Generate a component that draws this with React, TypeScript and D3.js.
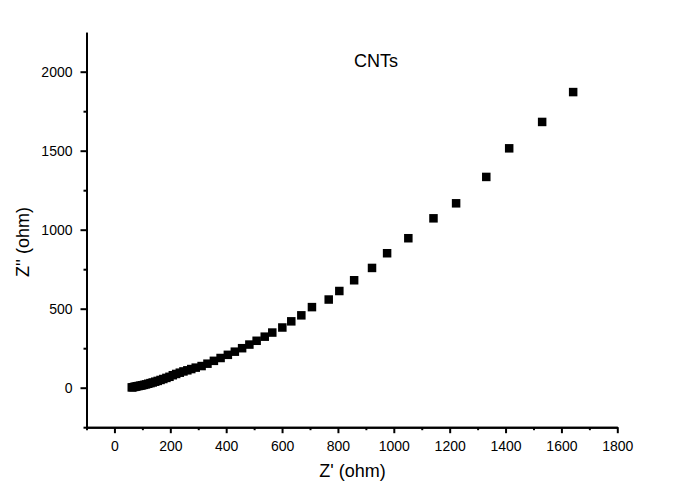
import { useRef, useEffect } from 'react';
import * as d3 from 'd3';

// Z' (real part) and Z'' (imaginary part), ohm
const zReal = [
  62, 66, 71, 76, 81, 87, 93, 99, 106, 113, 121, 129, 137, 146, 155, 165, 175, 186, 197, 209,
  221, 234, 247, 261, 275, 291, 312, 333, 356, 380, 406, 431, 457, 483, 509, 538, 565, 601,
  633, 669, 707, 767, 805, 858, 922, 976, 1052, 1142, 1223, 1331, 1413, 1531, 1642,
];
const zImag = [
  2, 3, 5, 7, 9, 11, 13, 15, 18, 21, 25, 29, 33, 38, 43, 49, 55, 62, 69, 79,
  87, 95, 103, 110, 118, 127, 137, 152, 170, 188, 208, 228, 250, 273, 297, 323, 349, 381,
  420, 458, 510, 558, 612, 680, 758, 851, 946, 1072, 1167, 1334, 1515, 1682, 1871,
];

const xMajor = [0, 200, 400, 600, 800, 1000, 1200, 1400, 1600, 1800];
const xMinor = [-100, 100, 300, 500, 700, 900, 1100, 1300, 1500, 1700];
const yMajor = [0, 500, 1000, 1500, 2000];
const yMinor = [-250, 250, 750, 1250, 1750];

const WIDTH = 673;
const HEIGHT = 497;
const FONT = '"Liberation Sans", Arial, sans-serif';

export default function App() {
  const svgRef = useRef<SVGSVGElement>(null);

  useEffect(() => {
    if (!svgRef.current) return;
    const svg = d3.select(svgRef.current);
    svg.selectAll('*').remove();

    const x = d3.scaleLinear().domain([-100, 1800]).range([86.5, 617.3]);
    const y = d3.scaleLinear().domain([-250, 2250]).range([427.2, 32.2]);
    const x0 = x.range()[0];
    const y0 = y.range()[0];
    const fmt = d3.format('d');

    const styleAxis = (g: d3.Selection<SVGGElement, unknown, null, undefined>) => {
      g.selectAll('path, line').attr('stroke', '#000').attr('stroke-width', 2);
      g.selectAll('text').style('font-family', FONT).style('font-size', '14px').attr('fill', '#000');
    };

    // X axis
    svg
      .append('g')
      .attr('transform', `translate(0,${y0})`)
      .call(d3.axisBottom(x).tickValues(xMinor).tickSize(3).tickSizeOuter(0).tickFormat(() => ''))
      .call(styleAxis);
    svg
      .append('g')
      .attr('transform', `translate(0,${y0})`)
      .call(d3.axisBottom(x).tickValues(xMajor).tickSize(6).tickSizeOuter(0).tickPadding(8).tickFormat(fmt))
      .call(styleAxis);

    // Y axis
    svg
      .append('g')
      .attr('transform', `translate(${x0},0)`)
      .call(d3.axisLeft(y).tickValues(yMinor).tickSize(3).tickSizeOuter(0).tickFormat(() => ''))
      .call(styleAxis);
    svg
      .append('g')
      .attr('transform', `translate(${x0},0)`)
      .call(d3.axisLeft(y).tickValues(yMajor).tickSize(6).tickSizeOuter(0).tickPadding(8).tickFormat(fmt))
      .call(styleAxis);

    // Axis titles
    svg
      .append('text')
      .attr('x', 352.5)
      .attr('y', 477)
      .attr('text-anchor', 'middle')
      .style('font-family', FONT)
      .style('font-size', '18px')
      .text("Z' (ohm)");

    svg
      .append('text')
      .attr('transform', 'translate(29,242) rotate(-90)')
      .attr('text-anchor', 'middle')
      .style('font-family', FONT)
      .style('font-size', '18px')
      .text("Z'' (ohm)");

    svg
      .append('text')
      .attr('x', 376)
      .attr('y', 67)
      .attr('text-anchor', 'middle')
      .style('font-family', FONT)
      .style('font-size', '18px')
      .text('CNTs');

    // Data points
    const size = 8.5;
    svg
      .append('g')
      .selectAll('rect')
      .data(zReal.map((d, i) => [d, zImag[i]]))
      .enter()
      .append('rect')
      .attr('x', (d) => x(d[0]) - size / 2)
      .attr('y', (d) => y(d[1]) - size / 2)
      .attr('width', size)
      .attr('height', size)
      .attr('fill', '#000');
  }, []);

  return (
    <svg
      ref={svgRef}
      width={WIDTH}
      height={HEIGHT}
      style={{ position: 'absolute', left: 0, top: 0, background: '#fff' }}
    />
  );
}
